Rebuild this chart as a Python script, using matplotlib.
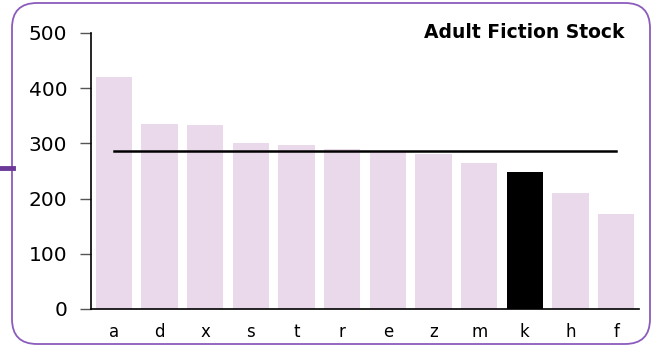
import numpy as np
from matplotlib import pyplot as plt
from matplotlib.patches import FancyBboxPatch
from matplotlib.lines import Line2D

branches = ['a', 'd', 'x', 's', 't', 'r', 'e', 'z', 'm', 'k', 'h', 'f']
stock = [420, 336, 333, 301, 297, 290, 285, 280, 264, 248, 211, 173]
highlight = 'k'
yticks = [0, 100, 200, 300, 400, 500]

pink = '#ead9eb'
purple = '#8c5cbc'

fig = plt.figure(figsize=(6.55, 3.47), dpi=100)
W, H = 655, 347

# rounded frame around the whole chart
frame = FancyBboxPatch((12 / W, 3 / H), 638 / W, 341 / H,
                       boxstyle='round,pad=0,rounding_size=%f' % (25 / W),
                       transform=fig.transFigure, fill=False,
                       edgecolor=purple, linewidth=1.3,
                       mutation_aspect=W / H)
fig.patches.append(frame)
fig.lines.append(Line2D([0, 13 / W], [1 - 168 / H, 1 - 168 / H],
                        transform=fig.transFigure, color='#6b3a98',
                        linewidth=3.5))

ax = fig.add_axes([91 / W, 38 / H, 548 / W, 276 / H])
x = np.arange(len(branches))
colors = ['black' if b == highlight else pink for b in branches]
ax.bar(x, stock, width=0.8, color=colors)

avg = np.mean(stock)
ax.plot([x[0], x[-1]], [avg, avg], color='black', linewidth=1.8)

ax.set_xlim(-0.5, len(branches) - 0.5)
ax.set_ylim(0, 500)
ax.set_yticks(yticks)
ax.set_xticks(x)
ax.set_xticklabels(branches, fontsize=12)
ax.tick_params(axis='y', labelsize=14.5, length=8, color='#555555', width=1,
               pad=9)
ax.tick_params(axis='x', length=0, pad=10)
for s in ['top', 'right']:
    ax.spines[s].set_visible(False)
ax.spines['left'].set_linewidth(1.2)
ax.spines['bottom'].set_linewidth(1.2)

fig.text(625 / W, 1 - 23 / H, 'Adult Fiction Stock', ha='right', va='top',
         fontsize=13.5, fontweight='bold')

fig.savefig('out.png', dpi=100)
